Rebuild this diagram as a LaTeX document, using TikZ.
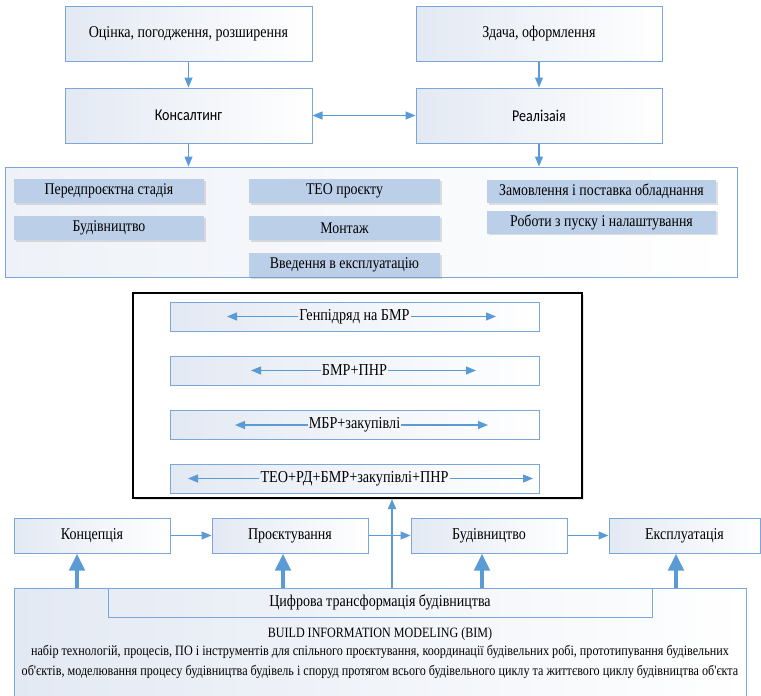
\documentclass[tikz,border=0pt]{standalone}
\usepackage{fontspec}
\setmainfont{Liberation Serif}[FakeStretch=0.85, Ligatures=TeXOff]
\newfontfamily\sansf{Carlito}[FakeStretch=0.85]
\usetikzlibrary{arrows.meta,shadows}
\definecolor{bl}{HTML}{5B9BD5}
\definecolor{bdr}{HTML}{7AA6DA}
\definecolor{fillb}{HTML}{BCCFE8}
\definecolor{grad}{HTML}{E3E9F3}
\begin{document}
\begin{tikzpicture}[x=1pt,y=-1pt,
  fs/.style={font=\fontsize{#1}{#1}\selectfont},
  topbox/.style={draw=bdr, line width=1pt, left color=grad, right color=white, inner sep=0pt, fs=16.5},
  fbox/.style={fill=fillb, inner sep=0pt, fs=16.3, drop shadow={shadow xshift=1.5pt, shadow yshift=-1.5pt, opacity=0.25}},
  rowbox/.style={draw=bdr, line width=1pt, left color=grad, right color=white, minimum width=369, minimum height=29, inner sep=0pt},
  rowtxt/.style={inner sep=1pt, fs=16.7},
  botbox/.style={draw=bdr, line width=1pt, left color=grad, right color=white, minimum height=35, inner sep=0pt, fs=16.5},
  arr/.style={draw=bl, line width=1.2pt, -{Triangle[width=8pt,length=10pt]}},
  arrb/.style={draw=bl, line width=1.2pt, {Triangle[width=8pt,length=10pt]}-{Triangle[width=8pt,length=10pt]}},
  thickarr/.style={draw=bl, line width=4.5pt, -{Triangle[width=15pt,length=17pt]}},
]
\clip (0,0) rectangle (761,696);
\fill[white] (0,0) rectangle (761,696);

% top boxes
\node[topbox, minimum width=247, minimum height=55] (ocinka) at (188.5,33.5) {Оцінка, погодження, розширення};
\node[topbox, minimum width=246, minimum height=55] (zdacha) at (539,33.5) {Здача, оформлення};
\node[topbox, minimum width=247, minimum height=55, font=\sansf\fontsize{16.5}{16.5}\selectfont] (kons) at (188.5,115.5) {Консалтинг};
\node[topbox, minimum width=246, minimum height=55, font=\sansf\fontsize{16.5}{16.5}\selectfont] (real) at (539,115.5) {Реалізаія};
\draw[arr] (ocinka.south) -- (kons.north);
\draw[arr] (zdacha.south) -- (real.north);
\draw[arrb] (kons.east) -- (real.west);

% stages container
\node[draw=bdr, line width=1pt, left color=grad!60, right color=white, minimum width=732, minimum height=110, inner sep=0pt] (stages) at (371,222) {};
\draw[arr] (kons.south) -- (kons.south |- stages.north);
\draw[arr] (real.south) -- (real.south |- stages.north);

\node[fbox, minimum width=190, minimum height=24] (s1) at (109,191) {Передпроєктна стадія};
\node[fbox, minimum width=190, minimum height=24] (s2) at (109,228) {Будівництво};
\node[fbox, minimum width=191, minimum height=24] (s3) at (344.5,191) {ТЕО проєкту};
\node[fbox, minimum width=191, minimum height=24] (s4) at (344.5,228) {Монтаж};
\node[fbox, minimum width=191, minimum height=24] (s5) at (344.5,265) {Введення в експлуатацію};
\node[fbox, minimum width=229, minimum height=23] (s6) at (601.5,191.5) {Замовлення і поставка обладнання};
\node[fbox, minimum width=229, minimum height=23] (s7) at (601.5,222) {Роботи з пуску і налаштування};

% black frame
\node[draw=black, line width=2pt, fill=white, minimum width=449, minimum height=205, inner sep=0pt,
  drop shadow={shadow xshift=1.5pt, shadow yshift=-1.5pt, opacity=0.2}] (frame) at (357.5,395.5) {};
\node[rowbox] (r1) at (354.5,316.5) {};
\node[rowbox] (r2) at (354.5,370.5) {};
\node[rowbox] (r3) at (354.5,425) {};
\node[rowbox] (r4) at (354.5,478.5) {};
\node[rowtxt] (t1) at (r1) {Генпідряд на БМР};
\node[rowtxt] (t2) at (r2) {БМР+ПНР};
\node[rowtxt] (t3) at (r3) {МБР+закупівлі};
\node[rowtxt] (t4) at (r4) {ТЕО+РД+БМР+закупівлі+ПНР};
\coordinate (l1) at (227,316.5); \coordinate (e1) at (496,316.5);
\coordinate (l2) at (251,370.5); \coordinate (e2) at (476,370.5);
\coordinate (l3) at (235,425);   \coordinate (e3) at (488,425);
\coordinate (l4) at (188,478.5); \coordinate (e4) at (533,478.5);
\foreach \i in {1,2,3,4}{
  \draw[arr] (t\i.west) -- (l\i);
  \draw[arr] (t\i.east) -- (e\i);
}

% bottom boxes
\node[botbox, minimum width=156] (konc) at (92,535.5) {Концепція};
\node[botbox, minimum width=156] (proj) at (290,535.5) {Проєктування};
\node[botbox, minimum width=156] (bud) at (489,535.5) {Будівництво};
\node[botbox, minimum width=151] (expl) at (684.5,535.5) {Експлуатація};
\draw[arr] (konc.east) -- (proj.west);
\draw[arr] (proj.east) -- (bud.west);
\draw[arr] (bud.east) -- (expl.west);

% BIM box
\node[draw=bdr, line width=1pt, left color=grad, right color=white, minimum width=732, minimum height=132, inner sep=0pt] (bim) at (380,654) {};
\node[draw=bdr, line width=1pt, minimum width=544, minimum height=29, inner sep=0pt, fs=16.5] (cifr) at (380,602.5) {Цифрова трансформація будівництва};
\node[inner sep=0pt, fs=14.2] (bimt) at (380,634) {BUILD INFORMATION MODELING (BIM)};
\node[inner sep=0pt, fs=14.3] (biml1) at (380,652) {набір технологій, процесів, ПО і інструментів для спільного проєктування, координації будівельних робі, прототипування будівельних};
\node[inner sep=0pt, fs=14.3] (biml2) at (380,672) {об'єктів, моделювання процесу будівництва будівель і споруд протягом всього будівельного циклу та життєвого циклу будівництва об'єкта};

\draw[thickarr] ([xshift=-15pt]konc.south |- bim.north) -- ([xshift=-15pt]konc.south);
\draw[thickarr] ([xshift=-7pt]proj.south |- bim.north) -- ([xshift=-7pt]proj.south);
\draw[thickarr] ([xshift=-7pt]bud.south |- bim.north) -- ([xshift=-7pt]bud.south);
\draw[thickarr] ([xshift=-8.5pt]expl.south |- bim.north) -- ([xshift=-8.5pt]expl.south);

\coordinate (vb) at (392,588);
\draw[arr, line width=2pt] (vb) -- (vb |- frame.south);
\end{tikzpicture}
\end{document}
